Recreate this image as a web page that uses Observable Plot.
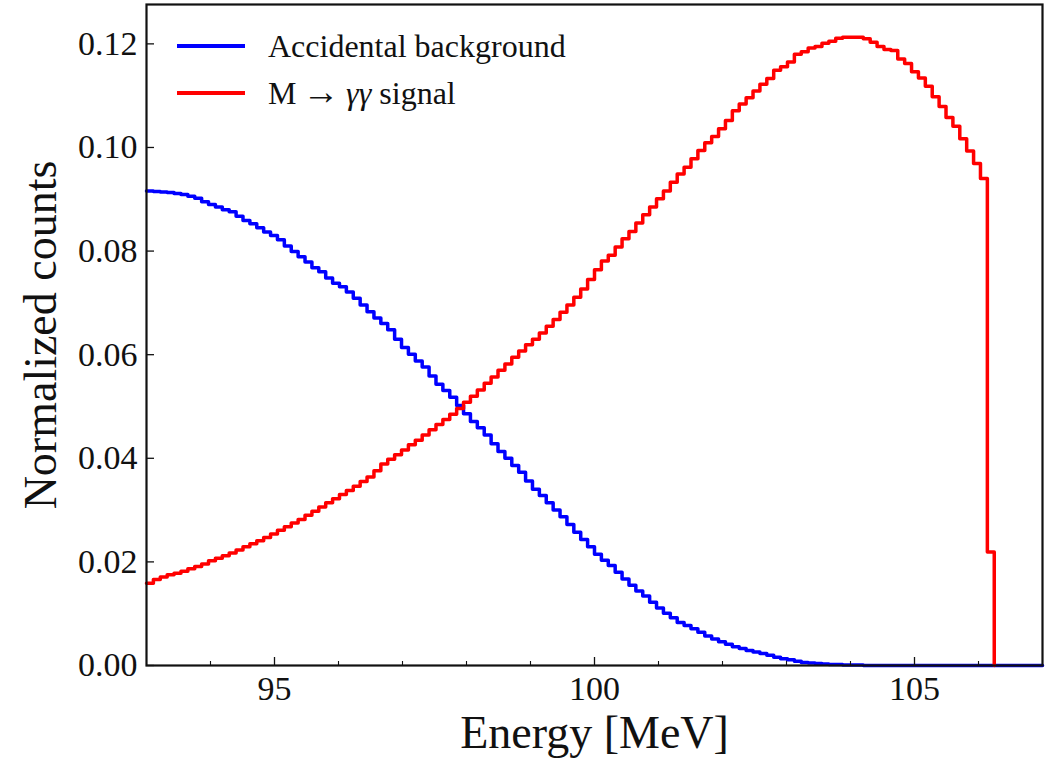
<!DOCTYPE html>
<html>
<head>
<meta charset="utf-8">
<script src="https://cdn.jsdelivr.net/npm/d3@7"></script>
<script src="https://cdn.jsdelivr.net/npm/@observablehq/plot@0.6"></script>
<style>
  body { margin: 0; background: #fff; }
  #wrap { position: relative; width: 1056px; height: 758px; }
  .leg { position: absolute; left: 177px; display: flex; align-items: center;
         font-family: "Liberation Serif", "Times New Roman", serif; font-size: 32px;
         line-height: 36px; height: 36px; color: #111; white-space: nowrap; }
  .sw { width: 68px; height: 3.5px; margin-right: 23px; }
</style>
</head>
<body>
<div id="wrap"></div>
<script>
// Histogram binning (edges of the bins)
const binStart = 93, binEnd = 107, nBins = 130;

// Series names
const seriesNames = ["Accidental background", "M → γγ signal"];
const seriesColors = ["#0000ff", "#ff0000"];

// Accidental background, normalized counts per bin (130 bins, 93–107 MeV)
const background = [
  0.0916, 0.0915, 0.0914, 0.0913, 0.0911, 0.0909, 0.0906, 0.0902, 0.0895, 0.0890,
  0.0885, 0.0880, 0.0876, 0.0867, 0.0859, 0.0853, 0.0845, 0.0837, 0.0830, 0.0822,
  0.0810, 0.0799, 0.0789, 0.0779, 0.0768, 0.0760, 0.0748, 0.0738, 0.0731, 0.0721,
  0.0709, 0.0696, 0.0683, 0.0671, 0.0660, 0.0648, 0.0630, 0.0614, 0.0601, 0.0588,
  0.0576, 0.0559, 0.0543, 0.0531, 0.0518, 0.0502, 0.0486, 0.0471, 0.0459, 0.0445,
  0.0428, 0.0413, 0.0400, 0.0386, 0.0373, 0.0356, 0.0340, 0.0328, 0.0314, 0.0300,
  0.0287, 0.0272, 0.0257, 0.0243, 0.0229, 0.0215, 0.0203, 0.0193, 0.0180, 0.0167,
  0.0155, 0.0144, 0.0134, 0.0122, 0.0111, 0.0101, 0.0092, 0.0083, 0.0077, 0.0071,
  0.0064, 0.0057, 0.0051, 0.0046, 0.0041, 0.0036, 0.0033, 0.0029, 0.0026, 0.0023,
  0.0020, 0.0016, 0.0013, 0.0011, 0.0008, 0.0006, 0.0005, 0.0004, 0.0003, 0.0002,
  0.0002, 0.0001, 0.0001, 0.0001, 0, 0, 0, 0, 0, 0,
  0, 0, 0, 0, 0, 0, 0, 0, 0, 0,
  0, 0, 0, 0, 0, 0, 0, 0, 0, 0
];

// M -> gamma gamma signal, normalized counts per bin (first 123 bins; none beyond)
const signal = [
  0.0159, 0.0166, 0.0171, 0.0175, 0.0178, 0.0182, 0.0187, 0.0191, 0.0196, 0.0202,
  0.0207, 0.0212, 0.0217, 0.0223, 0.0229, 0.0235, 0.0241, 0.0247, 0.0254, 0.0261,
  0.0268, 0.0275, 0.0282, 0.0290, 0.0298, 0.0306, 0.0314, 0.0322, 0.0330, 0.0338,
  0.0346, 0.0355, 0.0364, 0.0376, 0.0389, 0.0398, 0.0407, 0.0416, 0.0426, 0.0435,
  0.0445, 0.0455, 0.0465, 0.0475, 0.0485, 0.0496, 0.0508, 0.0520, 0.0532, 0.0545,
  0.0557, 0.0570, 0.0582, 0.0595, 0.0607, 0.0619, 0.0630, 0.0642, 0.0655, 0.0668,
  0.0682, 0.0696, 0.0711, 0.0727, 0.0745, 0.0764, 0.0781, 0.0792, 0.0808, 0.0824,
  0.0838, 0.0854, 0.0870, 0.0885, 0.0901, 0.0916, 0.0933, 0.0949, 0.0962, 0.0978,
  0.0994, 0.1009, 0.1021, 0.1036, 0.1052, 0.1071, 0.1084, 0.1096, 0.1109, 0.1122,
  0.1133, 0.1149, 0.1156, 0.1165, 0.1180, 0.1185, 0.1192, 0.1195, 0.1201, 0.1205,
  0.1211, 0.1213, 0.1213, 0.1213, 0.1210, 0.1203, 0.1195, 0.1189, 0.1187, 0.1171,
  0.1162, 0.1146, 0.1134, 0.1118, 0.1098, 0.1079, 0.1058, 0.1041, 0.1017, 0.0993,
  0.0969, 0.0940, 0.0219
];

// Axis ticks and labels
const xMajorTicks = [95, 100, 105];
const xMinorTicks = [94, 96, 97, 98, 99, 101, 102, 103, 104, 106];
const yTicks = [0, 0.02, 0.04, 0.06, 0.08, 0.10, 0.12];
const xLabel = "Energy [MeV]";
const yLabel = "Normalized counts";

// Step outline: left bin edges, then the closing right edge dropping to zero
const binWidth = (binEnd - binStart) / nBins;
function steps(values) {
  const pts = values.map((v, i) => ({x: binStart + i * binWidth, y: v}));
  const xEnd = binStart + values.length * binWidth;
  pts.push({x: xEnd, y: values[values.length - 1]});
  pts.push({x: xEnd, y: 0});
  return pts;
}

const serif = '"Liberation Serif", "Times New Roman", serif';

const chart = Plot.plot({
  width: 1056,
  height: 758,
  marginLeft: 146,
  marginRight: 14,
  marginTop: 4,
  marginBottom: 93,
  x: {domain: [binStart, binEnd]},
  y: {domain: [0, 0.1276]},
  style: {fontFamily: serif, background: "white", color: "#111", overflow: "visible"},
  marks: [
    Plot.line(steps(background), {x: "x", y: "y", curve: "step-after", stroke: seriesColors[0], strokeWidth: 3.5}),
    Plot.line(steps(signal), {x: "x", y: "y", curve: "step-after", stroke: seriesColors[1], strokeWidth: 3.5}),
    Plot.axisX(xMajorTicks, {tickSize: -8, tickPadding: 18, fontSize: 34, label: null, strokeWidth: 1.3}),
    Plot.axisX(xMinorTicks, {tickSize: -4, fill: "none", label: null, strokeWidth: 1.1}),
    Plot.axisY(yTicks, {tickSize: -8, tickPadding: 17, fontSize: 34, tickFormat: d3.format(".2f"), label: null, strokeWidth: 1.3}),
    Plot.frame({stroke: "#111", strokeWidth: 2.2}),
    Plot.text([xLabel], {frameAnchor: "bottom", dy: 82, lineAnchor: "bottom", textAnchor: "middle", fontSize: 46}),
    Plot.text([yLabel], {frameAnchor: "left", dx: -91, rotate: -90, lineAnchor: "bottom", textAnchor: "middle", fontSize: 46})
  ]
});

const wrap = document.getElementById("wrap");
wrap.appendChild(chart);

// Legend (upper left, inside axes)
const legendRows = [46, 93];
seriesNames.forEach((name, i) => {
  const row = document.createElement("div");
  row.className = "leg";
  row.style.top = (legendRows[i] - 18) + "px";
  const sw = document.createElement("div");
  sw.className = "sw";
  sw.style.background = seriesColors[i];
  row.appendChild(sw);
  const t = document.createElement("span");
  if (i === 1) {
    t.innerHTML = 'M\u2009<span style="font-size:1.15em;line-height:0">→</span>\u2009<i>γγ</i> signal';
  } else {
    t.textContent = name;
  }
  row.appendChild(t);
  wrap.appendChild(row);
});
</script>
</body>
</html>
